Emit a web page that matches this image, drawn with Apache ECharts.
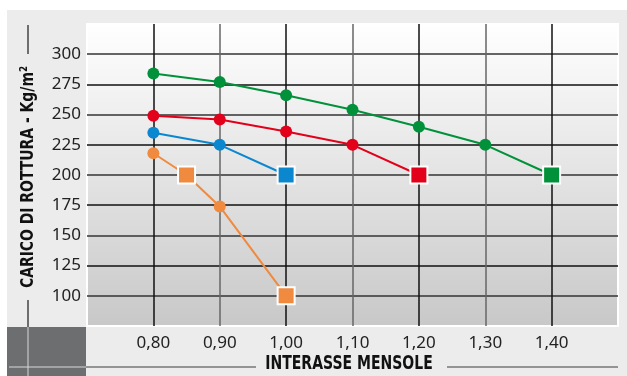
<!DOCTYPE html>
<html>
<head>
<meta charset="utf-8">
<script src="https://cdn.jsdelivr.net/npm/echarts@6/dist/echarts.min.js"></script>
<style>
  html, body { margin: 0; padding: 0; background: #fff; }
  #main { width: 627px; height: 376px; }
</style>
</head>
<body>
<div id="main"></div>
<script>
// dati
const xTicks = [0.80, 0.90, 1.00, 1.10, 1.20, 1.30, 1.40];
const greenX = [0.80, 0.90, 1.00, 1.10, 1.20, 1.30, 1.40];
const greenY = [284, 277, 266, 254, 240, 225, 200];
const redX = [0.80, 0.90, 1.00, 1.10, 1.20];
const redY = [249, 246, 236, 225, 200];
const blueX = [0.80, 0.90, 1.00];
const blueY = [235, 225, 200];
const orangeX = [0.80, 0.85, 0.90, 1.00];
const orangeY = [218, 200, 174, 100];
// indici dei punti disegnati a quadrato
const greenSq = [6];
const redSq = [4];
const blueSq = [2];
const orangeSq = [1, 3];

const titleFont = '"DejaVu Sans Condensed", "Liberation Sans", sans-serif';

function makeData(xs, ys, sq, color) {
  let arr = [];
  for (let i = 0; i < xs.length; i++) {
    if (sq.indexOf(i) >= 0) {
      arr.push({
        value: [xs[i], ys[i]],
        symbol: 'rect',
        symbolSize: 17,
        itemStyle: { color: color, borderColor: '#fff', borderWidth: 2 }
      });
    } else {
      arr.push({ value: [xs[i], ys[i]] });
    }
  }
  return arr;
}

function makeSeries(xs, ys, sq, color) {
  return {
    type: 'line',
    data: makeData(xs, ys, sq, color),
    symbol: 'circle',
    symbolSize: 12,
    showAllSymbol: true,
    lineStyle: { color: color, width: 2 },
    itemStyle: { color: color },
    z: 3
  };
}

let chart = echarts.init(document.getElementById('main'));
let option = {
  backgroundColor: '#fff',
  animation: false,
  graphic: [
    // pannello grigio
    { type: 'rect', shape: { x: 7, y: 10, width: 620, height: 366 }, style: { fill: '#ebeceb' }, z: -10 },
    // riquadro scuro in basso a sinistra
    { type: 'rect', shape: { x: 7, y: 327, width: 79, height: 49 }, style: { fill: '#6d6e70' }, z: -9 },
    { type: 'line', shape: { x1: 28, y1: 327, x2: 28, y2: 376 }, style: { stroke: '#d8d8d8', lineWidth: 1 }, z: -8 },
    { type: 'line', shape: { x1: 9, y1: 367, x2: 86, y2: 367 }, style: { stroke: '#d8d8d8', lineWidth: 1 }, z: -8 },
    // linee titolo asse y
    { type: 'line', shape: { x1: 28, y1: 25, x2: 28, y2: 54 }, style: { stroke: '#444', lineWidth: 1.5 } },
    { type: 'line', shape: { x1: 28, y1: 300, x2: 28, y2: 327 }, style: { stroke: '#444', lineWidth: 1.5 } },
    // linee titolo asse x
    { type: 'line', shape: { x1: 86, y1: 367, x2: 256, y2: 367 }, style: { stroke: '#777', lineWidth: 1.5 } },
    { type: 'line', shape: { x1: 447, y1: 367, x2: 618, y2: 367 }, style: { stroke: '#777', lineWidth: 1.5 } },
    {
      type: 'text', x: 349, y: 364, scaleX: 0.82,
      style: {
        text: 'INTERASSE MENSOLE', fill: '#111',
        font: 'bold 19px ' + titleFont, align: 'center', verticalAlign: 'middle'
      }
    },
    {
      type: 'text', x: 28, y: 177, rotation: Math.PI / 2, scaleX: 0.86,
      style: {
        text: 'CARICO DI ROTTURA - Kg/m²', fill: '#111',
        font: 'bold 18px ' + titleFont, align: 'center', verticalAlign: 'middle'
      }
    }
  ],
  grid: {
    left: 87, right: 9, top: 24, bottom: 50,
    show: true,
    borderColor: '#fff', borderWidth: 2,
    backgroundColor: {
      type: 'linear', x: 0, y: 0, x2: 0, y2: 1,
      colorStops: [{ offset: 0, color: '#ffffff' }, { offset: 1, color: '#c8c8c8' }]
    }
  },
  xAxis: {
    type: 'value',
    min: 0.7, max: 1.5, interval: 0.1,
    axisLine: { show: false },
    axisTick: { show: false },
    axisLabel: {
      color: '#222', fontSize: 17, fontFamily: '"Noto Sans", sans-serif', margin: 9,
      formatter: function (v) {
        let r = Math.round(v * 100) / 100;
        if (xTicks.indexOf(r) < 0) return '';
        return r.toFixed(2).replace('.', ',');
      }
    },
    splitLine: {
      show: true, showMinLine: false, showMaxLine: false,
      lineStyle: { color: ['#111', '#666'], width: 1.5 }
    }
  },
  yAxis: {
    type: 'value',
    min: 75, max: 325, interval: 25,
    axisLine: { show: false },
    axisTick: { show: false },
    axisLabel: {
      color: '#222', fontSize: 17, fontFamily: '"Noto Sans", sans-serif', margin: 6,
      formatter: function (v) { return (v < 100 || v > 300) ? '' : String(v); }
    },
    splitLine: {
      show: true, showMinLine: false, showMaxLine: false,
      lineStyle: { color: ['#333', '#111'], width: 1.5 }
    }
  },
  series: [
    makeSeries(orangeX, orangeY, orangeSq, '#ef8a3e'),
    makeSeries(blueX, blueY, blueSq, '#0a87cf'),
    makeSeries(redX, redY, redSq, '#e2001a'),
    makeSeries(greenX, greenY, greenSq, '#00913a')
  ]
};
chart.setOption(option);
window.addEventListener('resize', chart.resize);
</script>
</body>
</html>
